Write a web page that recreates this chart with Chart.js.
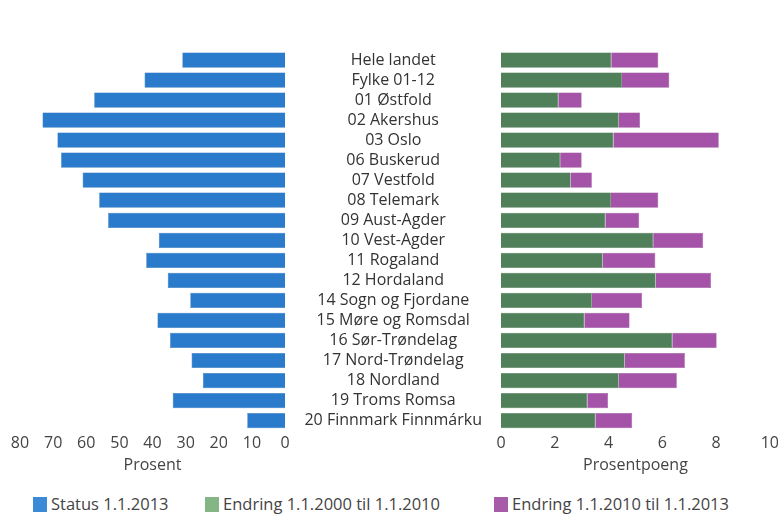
<!DOCTYPE html>
<html lang="no">
<head>
  <meta charset="UTF-8" />
  <title>Status og endring</title>
  <script src="https://cdn.jsdelivr.net/npm/chart.js"></script>
  <style>
    body {
        margin: 0;
        background: #fff;
        font-family: "Open Sans", sans-serif;
        width: 778px;
        height: 516px;
        overflow: hidden;
        position: relative;
    }
    .panel { position: absolute; top: 0; height: 480px; }
    #left { left: 0; width: 300px; }
    #right { left: 285px; width: 497px; }
    .legend-item {
        position: absolute;
        top: 494px;
        font-size: 16.5px;
        color: #444;
        line-height: 20px;
        white-space: nowrap;
    }
    .legend-item span {
        display: inline-block;
        width: 14px;
        height: 15px;
        vertical-align: -2px;
        margin-right: 4px;
    }
  </style>
</head>
<body>
  <div class="panel" id="left"><canvas id="leftChart"></canvas></div>
  <div class="panel" id="right"><canvas id="rightChart"></canvas></div>
  <div id="legend"></div>

  <script>
    const categories = ['Hele landet', 'Fylke 01-12', '01 Østfold', '02 Akershus', '03 Oslo',
      '06 Buskerud', '07 Vestfold', '08 Telemark', '09 Aust-Agder', '10 Vest-Agder',
      '11 Rogaland', '12 Hordaland', '14 Sogn og Fjordane', '15 Møre og Romsdal',
      '16 Sør-Trøndelag', '17 Nord-Trøndelag', '18 Nordland', '19 Troms Romsa',
      '20 Finnmark Finnmárku'];

    // Prosent
    const status2013 = [31, 42.4, 57.6, 73.2, 68.7, 67.6, 61.1, 56.1, 53.4, 38.1, 41.9, 35.4, 28.6, 38.5, 34.7, 28.2, 24.8, 33.9, 11.4];
    // Prosentpoeng
    const endring2000_2010 = [4.1, 4.5, 2.13, 4.38, 4.18, 2.2, 2.59, 4.09, 3.88, 5.66, 3.78, 5.75, 3.38, 3.1, 6.37, 4.6, 4.38, 3.21, 3.51];
    const endring2010_2013 = [1.75, 1.76, 0.87, 0.79, 3.92, 0.8, 0.79, 1.76, 1.26, 1.86, 1.96, 2.06, 1.87, 1.68, 1.65, 2.24, 2.16, 0.77, 1.37];

    const leftTicks = [80, 70, 60, 50, 40, 30, 20, 10, 0];
    const rightTicks = [0, 2, 4, 6, 8, 10];

    const seriesNames = ['Status 1.1.2013', 'Endring 1.1.2000 til 1.1.2010', 'Endring 1.1.2010 til 1.1.2013'];
    const barColors = ['#2a7bcc', '#50805a', '#a553a8'];
    const legendColors = ['#3a8ad6', '#84b584', '#a65ca8'];

    const font = 'Open Sans';
    const tickFont = { family: font, size: 16 };
    const titleFont = { family: font, size: 16 };

    const baseOptions = {
      indexAxis: 'y',
      responsive: true,
      maintainAspectRatio: false,
      animation: false,
      plugins: { legend: { display: false }, tooltip: { enabled: false } },
    };

    new Chart(document.getElementById('leftChart'), {
      type: 'bar',
      data: {
        labels: categories,
        datasets: [{
          label: seriesNames[0],
          data: status2013,
          backgroundColor: barColors[0],
          borderColor: '#1f66ad',
          borderWidth: 0.5,
          categoryPercentage: 1,
          barPercentage: 0.76
        }]
      },
      options: {
        ...baseOptions,
        layout: { padding: { top: 50, left: 20, right: 15, bottom: 5 } },
        scales: {
          x: {
            reverse: true,
            min: 0, max: 80,
            afterBuildTicks: s => { s.ticks = leftTicks.map(v => ({ value: v })); },
            grid: { display: false, drawTicks: false },
            border: { display: false },
            ticks: { color: '#444', font: tickFont, padding: 3, maxRotation: 0 },
            title: { display: true, text: 'Prosent', color: '#444', font: titleFont, padding: { top: 0, bottom: 0 } }
          },
          y: { display: false }
        }
      }
    });

    new Chart(document.getElementById('rightChart'), {
      type: 'bar',
      data: {
        labels: categories,
        datasets: [{
          label: seriesNames[1],
          data: endring2000_2010,
          backgroundColor: barColors[1],
          borderColor: '#3f6a45',
          borderWidth: 0.5,
          categoryPercentage: 1,
          barPercentage: 0.76
        }, {
          label: seriesNames[2],
          data: endring2010_2013,
          backgroundColor: barColors[2],
          borderColor: '#8e4490',
          borderWidth: 0.5,
          categoryPercentage: 1,
          barPercentage: 0.76
        }]
      },
      options: {
        ...baseOptions,
        layout: { padding: { top: 50, left: 0, right: 0, bottom: 5 } },
        scales: {
          x: {
            stacked: true,
            min: 0, max: 10,
            afterBuildTicks: s => { s.ticks = rightTicks.map(v => ({ value: v })); },
            grid: { display: false, drawTicks: false },
            border: { display: false },
            ticks: { color: '#444', font: tickFont, padding: 3, maxRotation: 0 },
            title: { display: true, text: 'Prosentpoeng', color: '#444', font: titleFont, padding: { top: 0, bottom: 0 } }
          },
          y: {
            stacked: true,
            grid: { display: false, drawTicks: false },
            border: { display: false },
            afterFit: s => { s.width = 216; },
            ticks: { color: '#333', font: tickFont, crossAlign: 'center', padding: 19, autoSkip: false }
          }
        }
      }
    });

    const legend = document.getElementById('legend');
    const legendX = [33, 205, 494];
    seriesNames.forEach((name, i) => {
      const item = document.createElement('div');
      item.className = 'legend-item';
      item.style.left = legendX[i] + 'px';
      item.innerHTML = '<span style="background:' + legendColors[i] + '"></span>' + name;
      legend.appendChild(item);
    });
  </script>
</body>
</html>
